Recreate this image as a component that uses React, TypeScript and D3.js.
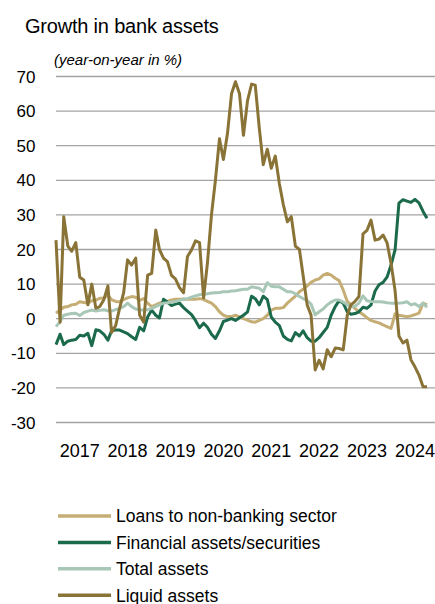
import React from "react";
import * as d3 from "d3";

const startYear = 2017;
const yearLabels = ["2017", "2018", "2019", "2020", "2021", "2022", "2023", "2024"];
const yTicks = [70, 60, 50, 40, 30, 20, 10, 0, -10, -20, -30];

const loans = [
  1.6, 2.5, 3.3, 3.5, 4, 4.2, 4.9, 4.7, 4.5, 5.2, 5.4, 5.9,
  6, 6.8, 5.5, 5, 4.9, 5.5, 6, 6.4, 6.2, 5.3, 5.8, 4.5,
  3.5, 4, 4.5, 4.9, 5, 5.4, 5.6, 5.6, 5.7, 5.6, 5.6, 5.6,
  5.8, 5.6, 5, 4.5, 3.5, 2, 1, 0.6, 0.6, 1, 0.5, 0,
  -0.4, -0.9, -1, -0.5, 0, 1, 2.5, 3, 3, 3.2, 4.5, 5.5,
  6.5, 7.8, 8.5, 9.5, 10.5, 11.2, 11.5, 12.6, 13.1, 12.6, 11.7, 11,
  8.3, 5, 4, 3, 2, 1.2, 0.3, -0.5, -0.9, -1.2, -1.8, -2.3,
  -2.8, 1.4, 1, 0.8, 0.6, 0.8, 1.2, 1.6, 4.5, 4,
];

const financial = [
  -7.5, -4.5, -7.5, -6.5, -6.2, -6, -4.8, -5, -4.2, -7.8, -3.2, -3.5,
  -4.5, -6.2, -3.5, -3.3, -3.3, -3.8, -4.3, -5.2, -6, -2.5, -3.5, 0.5,
  2.5, 1, 0.2, 5.6, 4.8, 3.8, 4.2, 4.5, 3.2, 2.2, 1.2, -0.5,
  -2.6, -1.3, -2.5, -4.5, -5.7, -3.5, -0.8, -0.4, 0, -0.5, 0.3, 1,
  2, 6.5, 5.8, 4, 6.5, 5.5, 0.5, -1, -2, -5, -6, -6.4,
  -4, -5, -3.5, -5.5, -6.5, -6.5, -5.5, -4, -2.5, 1, 3.5, 5.2,
  4.5, 2, 1.3, 1.5, 2, 3.3, 3, 4, 8, 9.8, 10.5, 12,
  15.5, 20, 33.4, 34.4, 34, 33.6, 34.5, 33.5, 31, 29,
];

const total = [
  -2.3, -0.9, 1, 1.3, 1.5, 1.6, 0.9, 1.8, 2.2, 2.5, 2.2, 2.4,
  2.6, 2.3, 2.2, 2.6, 3, 3.5, 4.5, 3.5, 2.8, 2.5, 2.5, 2.6,
  3, 3.5, 4, 4.5, 4.6, 4.8, 5, 5.3, 5.6, 5.8, 6.2, 6.6,
  6.9, 7.1, 7.2, 7.4, 7.5, 7.6, 7.8, 7.8, 8, 8.1, 8.3, 8.5,
  8.5, 9.2, 9, 8.8, 7.8, 10.4, 9.4, 9.2, 9.2, 8.5, 7.8, 7.8,
  7.2, 6.4, 5.8, 5.2, 4.2, 1.1, 2, 2.8, 4, 4.8, 5.4, 5.4,
  4.8, 4, 3.5, 3.6, 4.5, 6.6, 5.2, 5, 4.9, 4.9, 4.8, 4.6,
  4.5, 4.5, 4.5, 4.6, 4.9, 4, 4.3, 3.5, 4.5, 3.3,
];

const liquid = [
  22.7, -1, 29.5, 21, 19.5, 22, 12, 11.2, 4, 10, 3, 3.5,
  5.5, 9.5, -4, -2, 3, 7.5, 17, 15.5, 17.5, 1, -1, 12.6,
  13.1, 25.6, 20, 17.5, 16.5, 12.5, 11.5, 9, 7.5, 18, 19.9, 22.5,
  22, 6, 16, 30, 40, 52, 46, 53.5, 65, 68.5, 65, 53,
  63, 67.8, 67.5, 55, 44.5, 49, 43.5, 47, 39, 33, 28, 29.5,
  21, 20, 12.5, 4, 1, -14.8, -12, -14.5, -9, -11, -8.5, -8.6,
  -9, 1, 4, 5, 6.4, 24.5, 25.5, 28.5, 22.7, 23, 24.2, 22,
  16, 8, -5, -7, -6.2, -11.9, -13.9, -16.3, -19.7, -19.7,
];

const seriesNames = [
  "Loans to non-banking sector",
  "Financial assets/securities",
  "Total assets",
  "Liquid assets",
];
const seriesColors = ["#C5AD74", "#1B6A4B", "#A8C7B7", "#8A7336"];
const seriesData = [loans, financial, total, liquid];

const W = 435;
const H = 604;
const FONT = "'Liberation Sans', Arial, sans-serif";

export default function App() {
  const x = d3
    .scaleTime()
    .domain([new Date(startYear, 0, 1), new Date(startYear + 8, 0, 1)])
    .range([56, 56 + 96 * 3.99]);
  const y = d3.scaleLinear().domain([-30, 70]).range([422.5, 76.5]);

  const line = d3
    .line<number>()
    .x((_, i) => x(new Date(startYear, i, 1)))
    .y((d) => y(d))
    .curve(d3.curveLinear);

  return (
    <svg
      width={W}
      height={H}
      style={{ position: "absolute", left: 0, top: 0, background: "#fff" }}
      fontFamily={FONT}
    >
      <text x={25} y={32.5} fontSize={20} fill="#000" letterSpacing={-0.2}>
        Growth in bank assets
      </text>
      <text x={54} y={65} fontSize={15} fontStyle="italic" fill="#000">
        (year-on-year in %)
      </text>

      {yTicks.map((t) => (
        <g key={t}>
          <line x1={56} x2={435} y1={y(t)} y2={y(t)} stroke="#a3a3a3" strokeWidth={1.3} />
          <text
            x={35.5}
            y={y(t)}
            dy="0.36em"
            textAnchor="end"
            fontSize={17}
            fill="#000"
          >
            {t}
          </text>
        </g>
      ))}

      {yearLabels.map((lab, i) => (
        <text
          key={lab}
          x={x(new Date(startYear + i, 6, 1))}
          y={456.5}
          textAnchor="middle"
          fontSize={18}
          fill="#000"
        >
          {lab}
        </text>
      ))}

      {seriesData.map((d, i) => (
        <path
          key={seriesNames[i]}
          d={line(d) || ""}
          fill="none"
          stroke={seriesColors[i]}
          strokeWidth={3}
          strokeLinejoin="round"
        />
      ))}

      {seriesNames.map((name, i) => {
        const cy = 516 + i * 26.4;
        return (
          <g key={name}>
            <line x1={58} x2={111} y1={cy} y2={cy} stroke={seriesColors[i]} strokeWidth={3.5} />
            <text x={116} y={cy} dy="0.36em" fontSize={17.5} fill="#000">
              {name}
            </text>
          </g>
        );
      })}
    </svg>
  );
}
